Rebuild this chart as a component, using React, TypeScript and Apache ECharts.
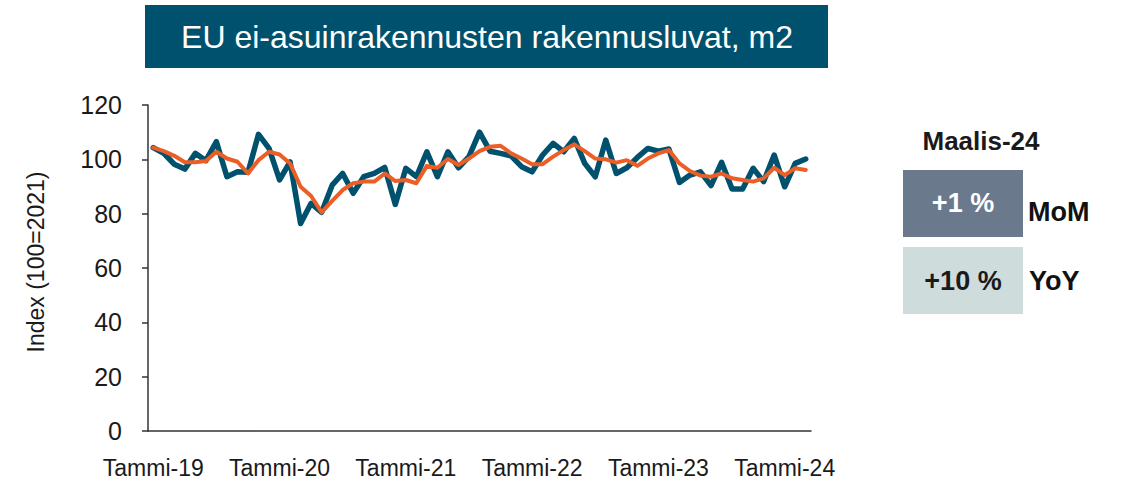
import React, { useEffect, useRef } from "react";
import * as echarts from "echarts";

const monthNames = ["Tammi", "Helmi", "Maalis", "Huhti", "Touko", "Kesä", "Heinä", "Elo", "Syys", "Loka", "Marras", "Joulu"];
const years = ["19", "20", "21", "22", "23", "24"];
const monthsInLastYear = 3;
const categories: string[] = [];
years.forEach((y, yi) =>
  monthNames.forEach((m, mi) => {
    if (yi < years.length - 1 || mi < monthsInLastYear) categories.push(`${m}-${y}`);
  })
);

const indexValues = [
  104.3, 102.2, 98.2, 96.4, 102.2, 99.5, 106.5, 93.6, 95.4, 95.2, 109.2, 104,
  92.4, 99.1, 76.4, 83.8, 80.5, 90.5, 94.8, 87.5, 93.6, 94.8, 97.0, 83.4,
  96.7, 93.6, 102.8, 93.6, 102.8, 96.9, 101, 110, 103, 102.2, 101.3, 97.3,
  95.4, 101.6, 105.9, 102.8, 107.7, 98.5, 93.6, 107.1, 94.8, 96.9, 100.7, 104,
  103, 103.8, 91.5, 94.2, 95.4, 90.3, 98.9, 89.1, 89.1, 96.7, 91.8, 101.6,
  89.9, 98.5, 100.1,
];
const trendValues = [
  104.3, 103, 101.3, 98.9, 98.9, 99.4, 102.8, 100.3, 99.1, 94.8, 99.7, 102.8,
  101.8, 98.5, 89.9, 86.5, 80.5, 84.7, 88.7, 91.2, 91.8, 91.8, 94.8, 92,
  92.4, 91.2, 97.6, 96.9, 100.1, 97.9, 100.3, 103, 104.6, 105, 102.2, 100.3,
  98.2, 98.2, 101, 103.4, 105.5, 103, 100.3, 100, 98.8, 99.7, 97.6, 100.3,
  102.2, 103.4, 98.5, 95.7, 94, 93.6, 94.8, 93, 92.4, 91.8, 93, 96.9,
  94.2, 96.7, 96.1,
];

const yMin = 0;
const yMax = 120;
const yInterval = 20;
const yAxisName = "Index (100=2021)";
const titleText = "EU ei-asuinrakennusten rakennusluvat, m2";
const periodLabel = "Maalis-24";
const momValue = "+1 %";
const momLabel = "MoM";
const yoyValue = "+10 %";
const yoyLabel = "YoY";

const FONT = "'Liberation Sans', Arial, sans-serif";

export default function App() {
  const ref = useRef<HTMLDivElement>(null);
  useEffect(() => {
    document.body.style.margin = "0";
    if (!ref.current) return;
    const chart = echarts.init(ref.current, undefined, { renderer: "svg" });
    chart.setOption({
      animation: false,
      textStyle: { fontFamily: FONT },
      grid: { left: 148, top: 105, width: 663, height: 326 },
      xAxis: {
        type: "category",
        data: categories,
        boundaryGap: true,
        axisLine: { lineStyle: { color: "#333", width: 1.5 } },
        axisTick: { interval: 11, length: 6, lineStyle: { color: "#333", width: 1.5 } },
        axisLabel: {
          interval: 11,
          margin: 25,
          fontSize: 23,
          color: "#1a1a1a",
          fontFamily: FONT,
        },
        splitLine: { show: false },
      },
      yAxis: {
        type: "value",
        min: yMin,
        max: yMax,
        interval: yInterval,
        name: yAxisName,
        nameLocation: "middle",
        nameRotate: 90,
        nameGap: 101,
        nameTextStyle: { fontSize: 23, color: "#1a1a1a", fontFamily: FONT, padding: [0, 0, 0, 12] },
        axisLine: { show: true, lineStyle: { color: "#333", width: 1.5 } },
        axisTick: { show: true, length: 6, lineStyle: { color: "#333", width: 1.5 } },
        axisLabel: { fontSize: 25, color: "#1a1a1a", margin: 26, fontFamily: FONT },
        splitLine: { show: false },
      },
      series: [
        {
          type: "line",
          data: indexValues,
          symbol: "none",
          lineStyle: { color: "#00516D", width: 5.5, join: "round", cap: "round" },
          z: 2,
        },
        {
          type: "line",
          data: trendValues,
          symbol: "none",
          lineStyle: { color: "#EB5E25", width: 4, join: "round", cap: "round" },
          z: 3,
        },
      ],
      graphic: [
        { type: "rect", shape: { x: 145, y: 5, width: 683, height: 63 }, style: { fill: "#00516D" } },
        {
          type: "text",
          x: 487,
          y: 37,
          style: { text: titleText, fill: "#fff", fontSize: 32, fontFamily: FONT, align: "center", verticalAlign: "middle" },
        },
        {
          type: "text",
          x: 981,
          y: 141,
          style: { text: periodLabel, fill: "#1a1a1a", fontSize: 26, fontWeight: "bold", fontFamily: FONT, align: "center", verticalAlign: "middle" },
        },
        { type: "rect", shape: { x: 903, y: 170, width: 120, height: 67 }, style: { fill: "#6A7A8C" } },
        {
          type: "text",
          x: 963,
          y: 203,
          style: { text: momValue, fill: "#fff", fontSize: 27, fontWeight: "bold", fontFamily: FONT, align: "center", verticalAlign: "middle" },
        },
        {
          type: "text",
          x: 1028,
          y: 212,
          style: { text: momLabel, fill: "#111", fontSize: 27, fontWeight: "bold", fontFamily: FONT, align: "left", verticalAlign: "middle" },
        },
        { type: "rect", shape: { x: 903, y: 247, width: 120, height: 67 }, style: { fill: "#CFDCDC" } },
        {
          type: "text",
          x: 963,
          y: 281,
          style: { text: yoyValue, fill: "#1a1a1a", fontSize: 27, fontWeight: "bold", fontFamily: FONT, align: "center", verticalAlign: "middle" },
        },
        {
          type: "text",
          x: 1029,
          y: 281,
          style: { text: yoyLabel, fill: "#111", fontSize: 27, fontWeight: "bold", fontFamily: FONT, align: "left", verticalAlign: "middle" },
        },
      ],
    });
    return () => chart.dispose();
  }, []);
  return <div ref={ref} style={{ width: 1122, height: 481 }} />;
}
